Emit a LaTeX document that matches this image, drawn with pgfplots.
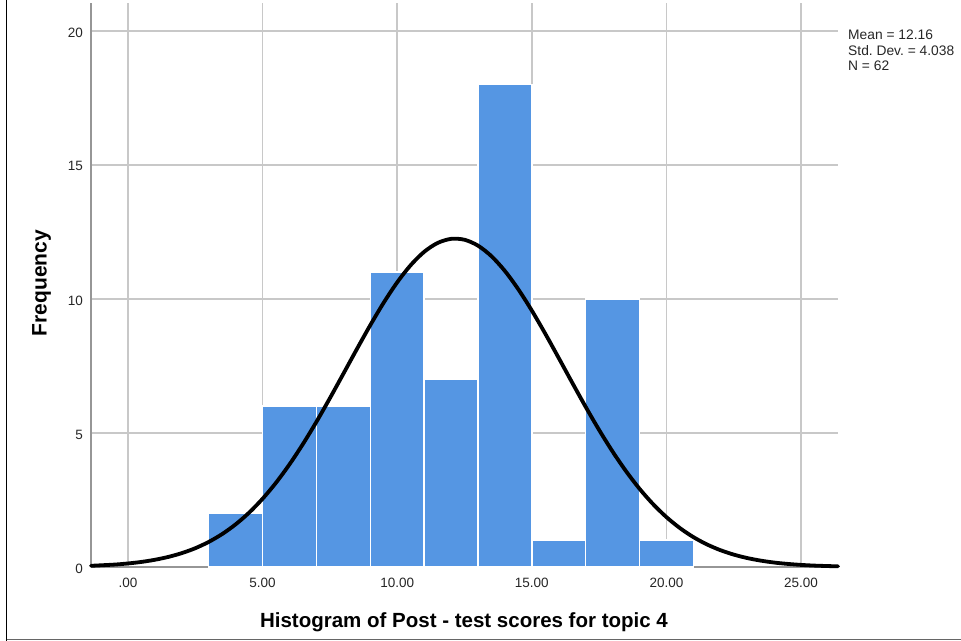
\documentclass[border=0pt]{standalone}
\usepackage{pgfplots}
\pgfplotsset{compat=1.18}
\usepackage{fontspec}
\setmainfont{Liberation Sans}
\frenchspacing
\definecolor{barblue}{RGB}{85,150,227}
\definecolor{gridgray}{RGB}{200,200,200}
\definecolor{axisgray}{RGB}{150,150,150}
\begin{document}
\begin{tikzpicture}
\useasboundingbox (-91bp,-74bp) rectangle (870bp,567bp);
\begin{axis}[
  at={(0,0)}, anchor=south west,
  scale only axis, width=747bp, height=564bp,
  xmin=-1.37, xmax=26.37, ymin=0, ymax=21.04,
  clip=false,
  axis x line*=bottom, axis y line*=left,
  axis line style={draw=axisgray, line width=1.5bp, -},
  xtick={0,5,10,15,20,25}, xticklabels={.00,5.00,10.00,15.00,20.00,25.00},
  ytick={0,5,10,15,20}, yticklabels={0,5,10,15,20},
  major tick length=0pt,
  grid=major, major grid style={draw=gridgray, line width=1.4bp},
  ticklabel style={font=\fontsize{13.5bp}{16bp}\selectfont, text=black!85},
  xticklabel style={anchor=base, yshift=-20.3bp, inner sep=0pt},
  yticklabel style={anchor=east, inner sep=0pt, xshift=-8bp, yshift=-1.5bp},
  xlabel={Histogram of Post - test scores for topic 4},
  xlabel style={at={(axis description cs:0.4993,-0.1064)}, anchor=base, inner sep=0pt,
    font=\bfseries\fontsize{20.5bp}{24bp}\selectfont},
  ylabel={Frequency},
  ylabel style={at={(axis description cs:-0.0593,0.5035)}, rotate=0, anchor=base, inner sep=0pt,
    font=\bfseries\fontsize{21bp}{24bp}\selectfont},
]
\addplot[ybar interval, fill=barblue, draw=white, line width=1.5bp]
  coordinates {(3,2) (5,6) (7,6) (9,11) (11,7) (13,18) (15,1) (17,10) (19,1) (21,1)};
\addplot[black, line width=3.8bp, smooth, no markers, line join=round, line cap=round]
  coordinates {
  (-1.37,0.045) (-0.5,0.090) (0,0.132) (0.5,0.189) (1,0.269) (1.5,0.376)
  (2,0.517) (2.5,0.700) (3,0.935) (3.5,1.229) (4,1.590) (4.5,2.026)
  (5,2.544) (5.5,3.144) (6,3.827) (6.5,4.587) (7,5.414) (7.5,6.295)
  (8,7.206) (8.5,8.124) (9,9.019) (9.5,9.862) (10,10.618) (10.5,11.258)
  (11,11.756) (11.5,12.088) (12,12.241) (12.5,12.208) (13,11.989) (13.5,11.595)
  (14,11.043) (14.5,10.357) (15,9.566) (15.5,8.702) (16,7.795) (16.5,6.876)
  (17,5.973) (17.5,5.110) (18,4.305) (18.5,3.572) (19,2.918) (19.5,2.348)
  (20,1.860) (20.5,1.452) (21,1.115) (21.5,0.844) (22,0.629) (22.5,0.462)
  (23,0.334) (23.5,0.238) (24,0.166) (24.5,0.115) (25,0.078) (25.5,0.052)
  (26,0.035) (26.37,0.025)
  };
\end{axis}
\draw[black, line width=1bp] (-84.3bp,-74bp) -- (-84.3bp,567bp);
\draw[black!60, line width=1.5bp] (-84.3bp,-72.5bp) -- (870bp,-72.5bp);
\node[anchor=north west, inner sep=0pt, align=left, text=black!85,
  font=\fontsize{13.8bp}{15.4bp}\selectfont] at (757bp,537bp)
  {Mean = 12.16\\Std. Dev. = 4.038\\N = 62};
\end{tikzpicture}
\end{document}
